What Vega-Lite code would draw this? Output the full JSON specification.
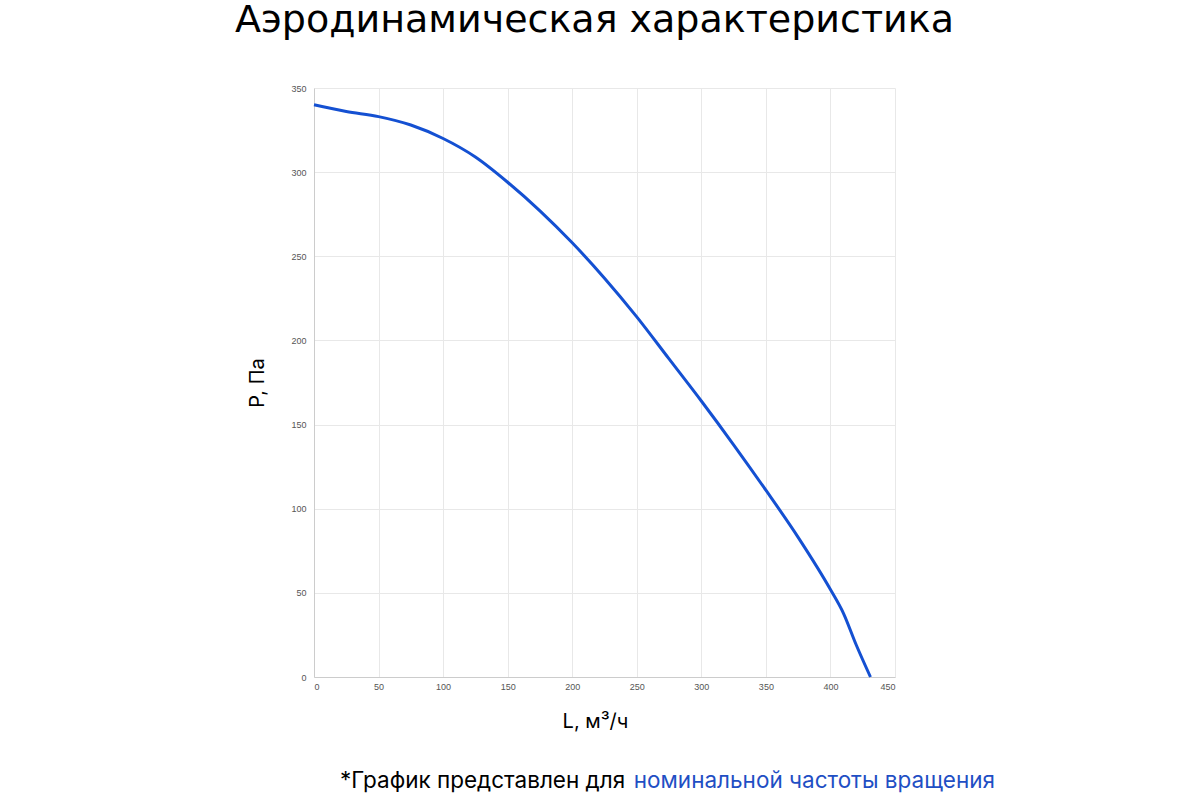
{
  "$schema": "https://vega.github.io/schema/vega-lite/v6.json",
  "width": 581,
  "height": 589,
  "autosize": {"type": "none"},
  "padding": {"left": 314, "top": 88, "right": 305, "bottom": 123},
  "background": "white",
  "title": {
    "text": "Аэродинамическая характеристика",
    "font": "DejaVu Sans",
    "fontSize": 38,
    "fontWeight": 400,
    "color": "#000000",
    "anchor": "middle",
    "dx": -10,
    "offset": 44
  },
  "config": {
    "view": {"stroke": null},
    "font": "Inter"
  },
  "layer": [
    {
      "data": {
        "values": [
          {"L": 0, "P": 340},
          {"L": 25, "P": 336},
          {"L": 50, "P": 333},
          {"L": 75, "P": 328},
          {"L": 100, "P": 320},
          {"L": 125, "P": 309},
          {"L": 150, "P": 294},
          {"L": 175, "P": 277},
          {"L": 200, "P": 258},
          {"L": 225, "P": 237},
          {"L": 250, "P": 214},
          {"L": 275, "P": 189},
          {"L": 300, "P": 164},
          {"L": 325, "P": 138},
          {"L": 350, "P": 111},
          {"L": 375, "P": 83},
          {"L": 400, "P": 52},
          {"L": 410, "P": 38},
          {"L": 420, "P": 19},
          {"L": 431, "P": 0}
        ]
      },
      "mark": {"type": "line", "interpolate": "monotone", "color": "#1450d2", "strokeWidth": 3},
      "encoding": {
        "x": {
          "field": "L", "type": "quantitative",
          "scale": {"domain": [0, 450], "nice": false},
          "axis": {
            "title": "L, м³/ч", "titleFont": "Inter", "titleFontSize": 20, "titleFontWeight": 400,
            "titleColor": "#000000", "titlePadding": 20, "titleX": 281,
            "values": [0, 50, 100, 150, 200, 250, 300, 350, 400, 450],
            "labelFontSize": 9, "labelColor": "#555555", "labelFont": "Arial",
            "ticks": false, "labelPadding": 5,
            "domainColor": "#cccccc", "gridColor": "#e8e8e8", "grid": true
          }
        },
        "y": {
          "field": "P", "type": "quantitative",
          "scale": {"domain": [0, 350], "nice": false},
          "axis": {
            "title": "P, Па", "titleFont": "Inter", "titleFontSize": 20, "titleFontWeight": 400,
            "titleColor": "#000000", "titlePadding": 23,
            "values": [0, 50, 100, 150, 200, 250, 300, 350],
            "labelFontSize": 9, "labelColor": "#555555", "labelFont": "Arial",
            "ticks": false, "labelPadding": 8,
            "domainColor": "#cccccc", "gridColor": "#e8e8e8", "grid": true
          }
        }
      }
    },
    {
      "data": {"values": [{"t": "*График представлен для "}]},
      "mark": {"type": "text", "align": "left", "baseline": "middle", "font": "Inter", "fontSize": 22.5, "color": "#000000"},
      "encoding": {"text": {"field": "t"}, "x": {"value": 26}, "y": {"value": 693}}
    },
    {
      "data": {"values": [{"t": "номинальной частоты вращения"}]},
      "mark": {"type": "text", "align": "right", "baseline": "middle", "font": "Inter", "fontSize": 22.5, "color": "#1f4fc4"},
      "encoding": {"text": {"field": "t"}, "x": {"value": 681}, "y": {"value": 693}}
    }
  ]
}
